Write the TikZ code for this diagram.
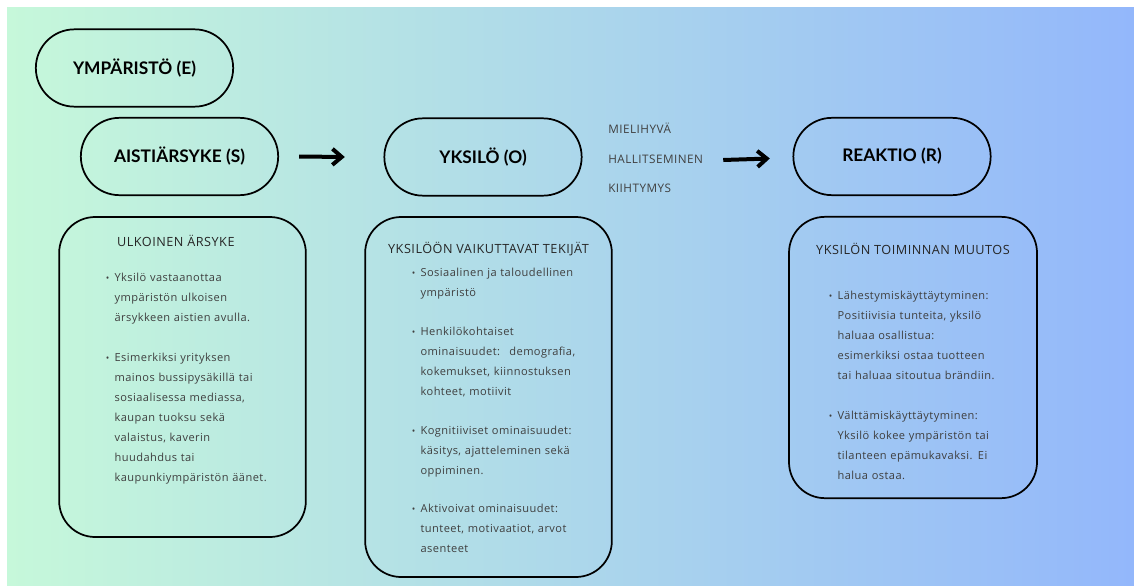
\documentclass[tikz,border=0pt]{standalone}
\usepackage{fontspec}
\setmainfont{Open Sans}
\newfontfamily\pillfont{Lato}
\newfontfamily\cardfont{Open Sans}[LetterSpace=4]
\usepackage{enumitem}
\usetikzlibrary{arrows.meta,positioning}
\definecolor{mint}{HTML}{C6F8DA}
\definecolor{sky}{HTML}{93B7FB}
\definecolor{bodygray}{HTML}{3F3F3F}

\begin{document}
\begin{tikzpicture}[
  x=0.75pt, y=-0.75pt,
  pill/.style={rectangle, draw, line width=1.3pt, rounded corners=29pt,
    minimum width=148pt, minimum height=58pt,
    font=\pillfont\bfseries\fontsize{13}{15}\selectfont},
  card/.style={rectangle, draw, line width=1.3pt, rounded corners=27pt},
  cardtitle/.style={inner sep=0pt, text=black!85,
    font=\cardfont\fontsize{9.5}{10}\selectfont},
  cardlist/.style={anchor=north west, inner sep=0pt, text width=170pt,
    text=bodygray, font=\cardfont\fontsize{8.3}{15}\selectfont},
  moods/.style={inner sep=0pt, align=left, text=black!75,
    font=\cardfont\fontsize{8.8}{22}\selectfont},
  arr/.style={line width=3pt, -{Straight Barb[length=7pt,width=12pt]}}
]
\useasboundingbox (0,0) rectangle (1134,585);
\fill[white] (0,0) rectangle (1134,585);
\shade[left color=mint, right color=sky] (7,8) rectangle (1134,585);

% Top row
\node[pill] (env) at (134.5,68) {YMPÄRISTÖ (E)};
\node[pill] (stim) at (179.5,156.5) {AISTIÄRSYKE (S)};
\node[pill] (org) at (483,157) {YKSILÖ (O)};
\node[moods, anchor=west] (mood) at (608,158) {MIELIHYVÄ\\HALLITSEMINEN\\KIIHTYMYS};
\node[pill] (resp) at (892,156.5) {REAKTIO (R)};

\draw[arr] ([xshift=15pt]stim.east) -- ([xshift=-29pt]org.west);
\draw[arr] ([xshift=15pt,yshift=-1.5pt]mood.east) -- ([xshift=-17pt,yshift=-1.5pt]resp.west);

% Stimulus card
\node[card, minimum width=185pt, minimum height=240pt] (sbox) at (182.5,377) {};
\node[cardtitle, below=14pt of sbox.north, xshift=-5pt] (stitle) {ULKOINEN ÄRSYKE};
\node[cardlist] (slist) at (105,261) {\raggedright
  \begin{itemize}[leftmargin=7pt, labelsep=4pt, itemsep=15pt, topsep=0pt,
    parsep=0pt, partopsep=0pt, label={\fontsize{7}{7}\selectfont\textbullet}]
  \item Yksilö vastaanottaa\newline ympäristön ulkoisen\newline ärsykkeen aistien avulla.
  \item Esimerkiksi yrityksen\newline mainos bussipysäkillä tai\newline sosiaalisessa mediassa,\newline
    kaupan tuoksu sekä\newline valaistus, kaverin\newline huudahdus tai\newline kaupunkiympäristön äänet.
  \end{itemize}};

% Organism card
\node[card, minimum width=185pt, minimum height=270pt] (obox) at (488.5,397) {};
\node[cardtitle, below=19.5pt of obox.north] (otitle) {YKSILÖÖN VAIKUTTAVAT TEKIJÄT};
\node[cardlist] (olist) at (411,256.5) {\raggedright
  \begin{itemize}[leftmargin=7pt, labelsep=4pt, itemsep=14pt, topsep=0pt,
    parsep=0pt, partopsep=0pt, label={\fontsize{7}{7}\selectfont\textbullet}]
  \item Sosiaalinen ja taloudellinen\newline ympäristö
  \item Henkilökohtaiset\newline ominaisuudet:~ demografia,\newline kokemukset, kiinnostuksen\newline kohteet, motiivit
  \item Kognitiiviset ominaisuudet:\newline käsitys, ajatteleminen sekä\newline oppiminen.
  \item Aktivoivat ominaisuudet:\newline tunteet, motivaatiot, arvot\newline asenteet
  \end{itemize}};

% Response card
\node[card, minimum width=186pt, minimum height=211pt] (rbox) at (913,357.5) {};
\node[cardtitle, below=20pt of rbox.north] (rtitle) {YKSILÖN TOIMINNAN MUUTOS};
\node[cardlist] (rlist) at (828,279.5) {\raggedright
  \begin{itemize}[leftmargin=7pt, labelsep=4pt, itemsep=14.5pt, topsep=0pt,
    parsep=0pt, partopsep=0pt, label={\fontsize{7}{7}\selectfont\textbullet}]
  \item Lähestymiskäyttäytyminen:\newline Positiivisia tunteita, yksilö\newline haluaa osallistua:\newline
    esimerkiksi ostaa tuotteen\newline tai haluaa sitoutua brändiin.
  \item Välttämiskäyttäytyminen:\newline Yksilö kokee ympäristön tai\newline tilanteen epämukavaksi. Ei\newline halua ostaa.
  \end{itemize}};

\end{tikzpicture}
\end{document}
